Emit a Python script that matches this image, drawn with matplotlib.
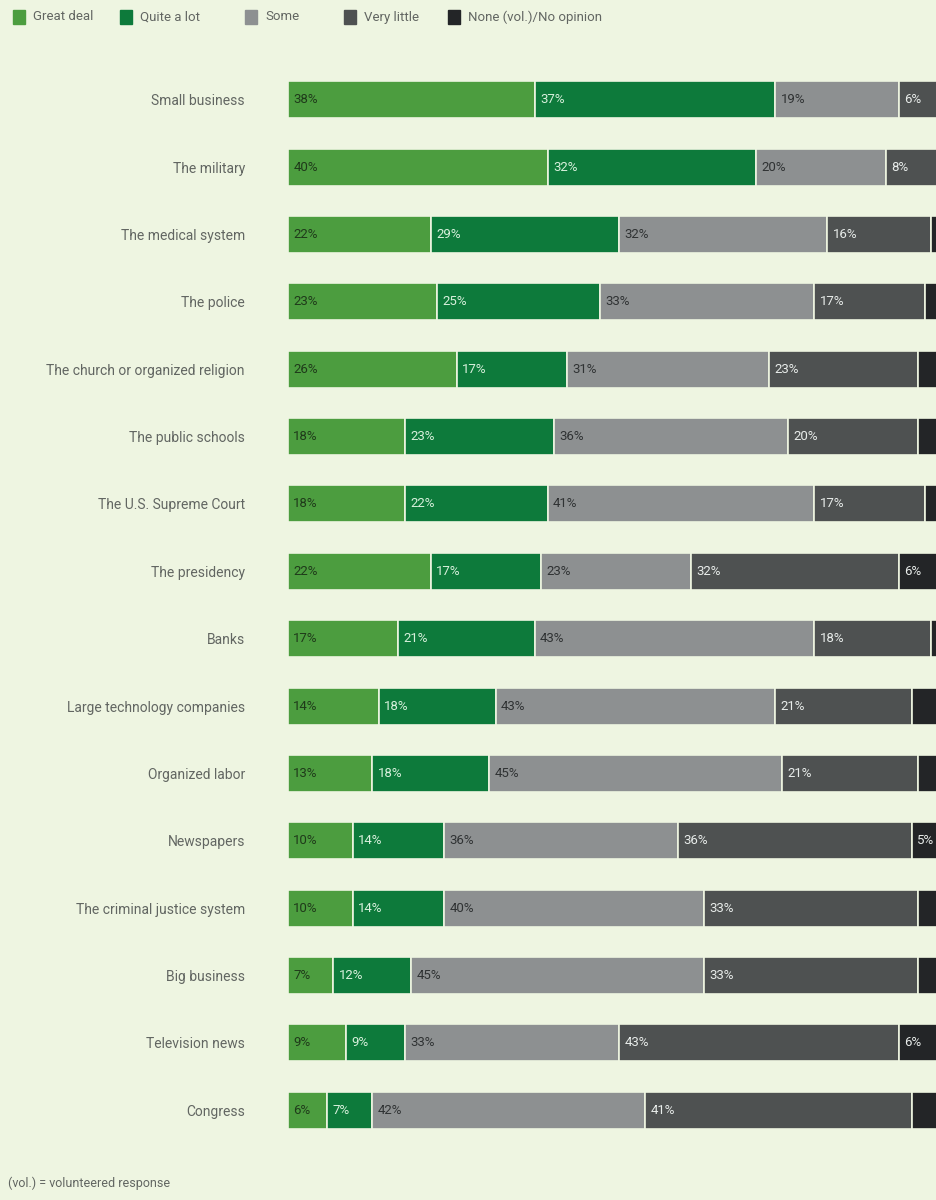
import matplotlib
matplotlib.use("Agg")
import matplotlib.pyplot as plt
from matplotlib.patches import Rectangle
import numpy as np

categories = ["Small business", "The military", "The medical system", "The police",
              "The church or organized religion", "The public schools", "The U.S. Supreme Court",
              "The presidency", "Banks", "Large technology companies", "Organized labor",
              "Newspapers", "The criminal justice system", "Big business", "Television news",
              "Congress"]
series_names = ["Great deal", "Quite a lot", "Some", "Very little", "None (vol.)/No opinion"]
great_deal = [38, 40, 22, 23, 26, 18, 18, 22, 17, 14, 13, 10, 10, 7, 9, 6]
quite_a_lot = [37, 32, 29, 25, 17, 23, 22, 17, 21, 18, 18, 14, 14, 12, 9, 7]
some = [19, 20, 32, 33, 31, 36, 41, 23, 43, 43, 45, 36, 40, 45, 33, 42]
very_little = [6, 8, 16, 17, 23, 20, 17, 32, 18, 21, 21, 36, 33, 33, 43, 41]
none_opinion = [0, 0, 1, 2, 3, 3, 2, 6, 1, 4, 3, 5, 3, 3, 6, 4]

colors = ["#4c9d3f", "#0d7a3b", "#8d9091", "#4e5151", "#232527"]
text_colors = ["#1f3a1a", "#d8f0dc", "#2f3233", "#e8ecea", "#e8ecea"]
bg = "#eef5e1"
label_color = "#626662"

W, H = 936, 1200
fig = plt.figure(figsize=(W / 100, H / 100), dpi=100, facecolor=bg)
plt.rcParams['font.family'] = ['Roboto', 'DejaVu Sans']

ax = fig.add_axes([288 / W, (H - 1144) / H, 1 - 288 / W, (1144 - 66) / H])
ax.set_facecolor(bg)

data = [great_deal, quite_a_lot, some, very_little, none_opinion]
y = np.arange(len(categories))
left = np.zeros(len(categories))
for s, vals in enumerate(data):
    vals = np.array(vals, dtype=float)
    ax.barh(y, vals, left=left, height=0.55, color=colors[s], edgecolor=bg, linewidth=1.2)
    for i, v in enumerate(vals):
        if v >= 5:
            ax.text(left[i] + 0.8, y[i], f"{int(v)}%", va="center", ha="left",
                    fontsize=9.5, color=text_colors[s])
    left += vals

ax.set_xlim(0, 99.7)
ax.set_ylim(len(categories) - 0.5, -0.5)
ax.set_yticks(y)
ax.set_yticklabels(categories, fontsize=10, color=label_color)
ax.tick_params(axis="y", length=0, pad=31)
ax.set_xticks([])
for sp in ax.spines.values():
    sp.set_visible(False)

# Legend
leg_x = [13, 120, 245, 344, 448]
for xs, name, c in zip(leg_x, series_names, colors):
    fig.patches.append(Rectangle((xs / W, (H - 24) / H), 12 / W, 14 / H,
                                 transform=fig.transFigure, color=c))
    fig.text((xs + 20) / W, (H - 17) / H, name, fontsize=9.5, color=label_color,
             va="center", ha="left")

fig.text(8 / W, (H - 1183) / H, "(vol.) = volunteered response", fontsize=9,
         color=label_color, va="center", ha="left")

fig.savefig("out.png", dpi=100, facecolor=bg)
